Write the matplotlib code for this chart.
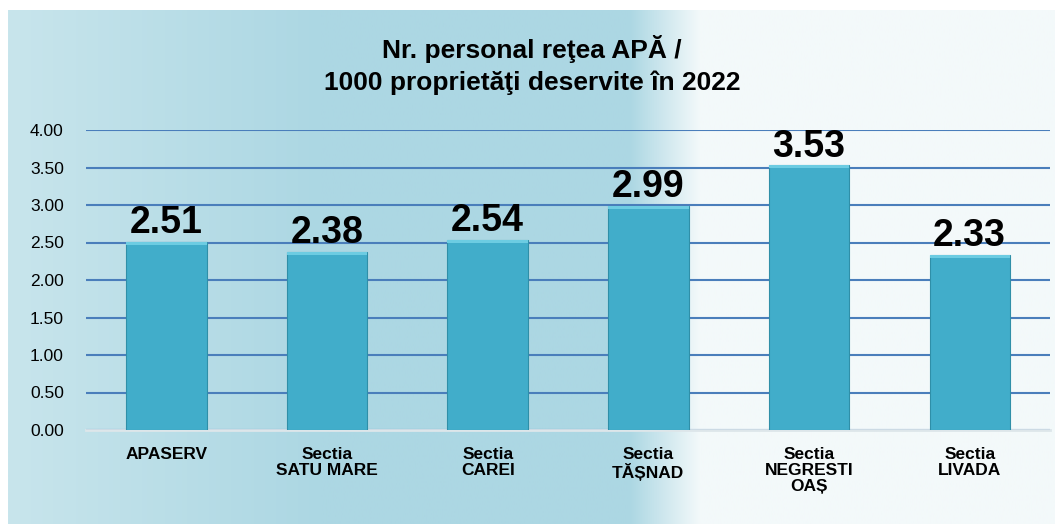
import matplotlib.pyplot as plt
import matplotlib as mpl
import numpy as np

mpl.rc('font', family=['Liberation Sans', 'DejaVu Sans'])

categories = ['APASERV', 'Sectia\nSATU MARE', 'Sectia\nCAREI', 'Sectia\nTĂȘNAD',
              'Sectia\nNEGRESTI\nOAȘ', 'Sectia\nLIVADA']
values = [2.51, 2.38, 2.54, 2.99, 3.53, 2.33]
yticks = [0.0, 0.5, 1.0, 1.5, 2.0, 2.5, 3.0, 3.5, 4.0]
title = 'Nr. personal reţea APĂ /\n1000 proprietăţi deservite în 2022'

W, H = 1064, 532
fig = plt.figure(figsize=(W/100., H/100.), dpi=100)
fig.patch.set_facecolor('white')

# background panel with horizontal gradient
bg = fig.add_axes([8./W, 1-524./H, (1055-8.)/W, (524-10.)/H], zorder=0)
xs = np.linspace(8, 1055, 600)
c_left = np.array([200, 229, 236]) / 255.
c_mid = np.array([172, 215, 227]) / 255.
c_right = np.array([243, 249, 250]) / 255.
cols = np.zeros((1, len(xs), 3))
for i, x in enumerate(xs):
    if x < 320:
        t = (x - 8) / (320 - 8.)
        cols[0, i] = c_left*(1-t) + c_mid*t
    elif x < 630:
        cols[0, i] = c_mid
    elif x < 700:
        t = (x - 630) / 70.
        cols[0, i] = c_mid*(1-t) + c_right*t
    else:
        cols[0, i] = c_right
bg.imshow(cols, aspect='auto', extent=(0, 1, 0, 1))
bg.axis('off')

ax = fig.add_axes([86./W, 1-430./H, (1050-86.)/W, 300./H], zorder=1)
ax.patch.set_alpha(0)

x = np.arange(len(categories))
ax.bar(x, values, width=0.5, color='#41adca', edgecolor='#2f8fa8', linewidth=0.8, zorder=3)
# bevel highlight at top of bars
ax.bar(x, [0.04]*len(values), width=0.5, bottom=[v-0.04 for v in values],
       color='#6cccE2', linewidth=0, zorder=4)

for xi, v in zip(x, values):
    ax.text(xi, v + 0.01, '%.2f' % v, ha='center', va='bottom',
            fontsize=27, fontweight='bold', color='black', zorder=5)

ax.set_ylim(0, 4.0)
ax.set_xlim(-0.5, len(categories)-0.5)
ax.set_yticks(yticks)
ax.set_yticklabels(['%.2f' % t for t in yticks], fontsize=12.5)
ax.set_xticks(x)
ax.set_xticklabels(categories, fontsize=12.5, fontweight='bold', va='top',
                   multialignment='center', linespacing=1.1)
ax.tick_params(axis='both', length=0)
ax.tick_params(axis='y', pad=16)
ax.tick_params(axis='x', pad=12)
ax.yaxis.grid(True, color='#4a7ebb', linewidth=1.5, zorder=1)
ax.set_axisbelow(True)
for s in ['top', 'right', 'left']:
    ax.spines[s].set_visible(False)
ax.spines['bottom'].set_color('#dde6ea')
ax.spines['bottom'].set_linewidth(2)
ax.spines['bottom'].set_zorder(2)

fig.text(0.5, 1-65./H, title, ha='center', va='center', fontsize=19,
         fontweight='bold', linespacing=1.35)

plt.savefig('out.png', dpi=100)
